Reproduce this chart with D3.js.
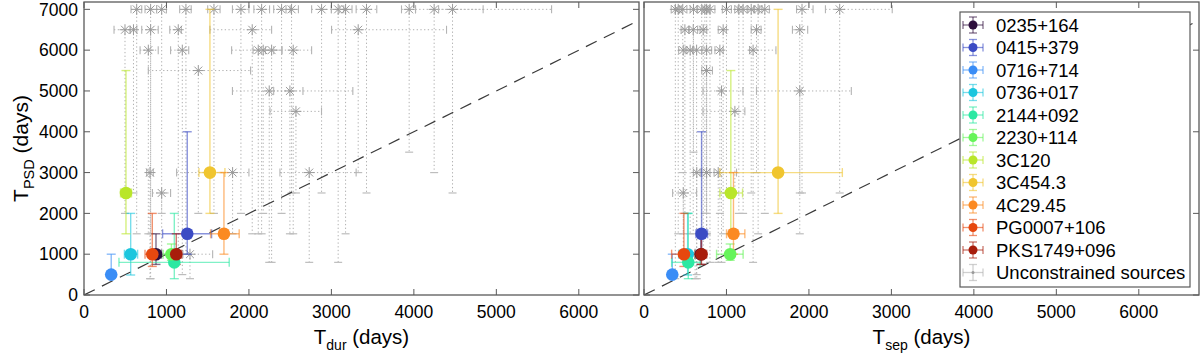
<!DOCTYPE html>
<html><head><meta charset="utf-8">
<script src="https://cdn.jsdelivr.net/npm/d3@7"></script>
<style>body{margin:0;background:#fff} text{font-family:"Liberation Sans",Arial,Helvetica,sans-serif;fill:#000}</style>
</head><body><svg id="c" width="1200" height="361"></svg>
<script>
// ---- colored (constrained) sources ----
const names = ["0235+164","0415+379","0716+714","0736+017","2144+092","2230+114","3C120","3C454.3","4C29.45","PG0007+106","PKS1749+096"];
const colors = ["#2e0f3d","#3b4bc4","#3a8df6","#1cc6de","#2be8a2","#66f45a","#b9e62a","#f0c52f","#fb8a22","#e6480f","#a81d0b"];
const psdY   = [1000,1500, 500,1000, 800,1000,2500,3000,1500,1000,1000];
const psdYlo = [ 750,1000, 500, 490, 400, 850,1500,2000,1000, 700, 750];
const psdYhi = [1500,4000,1000,2000,2000,1250,5500,7000,3000,2000,1500];
const durX   = [ 873,1252, 330, 566,1095,1060, 509,1527,1697, 828,1119];
const durXlo = [ 810, 953, 330, 490, 424, 960, 443,1394,1535, 740,1063];
const durXhi = [ 940,1547, 330, 650,1761,1150, 576,1709,1882, 900,1184];
const sepX   = [ 690, 698, 343, 529, 537,1045,1053,1626,1085, 484, 697];
const sepXlo = [ 650, 630, 343, 420, 335, 880, 920, 920,1001, 335, 650];
const sepXhi = [ 730, 771, 343, 620, 680,1202,1195,2405,1223, 617, 760];

// ---- unconstrained sources (gray) ----
const uPsd   = [7000,7000,7000,7000,7000,7000,7000,7000,7000,7000,7000,7000,7000,7000,7000,7000, 6500,6500,6500,6500,6500,6500, 6000,6000,6000,6000,6000,6000, 5500, 5000,5000, 4500, 3000,3000,3000, 2500, 1000];
const uPsdLo = [1500, 400,2000,1000,2000,2000,1500,2000,2500,2500, 800,1500,2500,3500,3000,2500, 2000,1500,1000,1500,3000,2500, 1500, 500,1500,2000, 800,1500, 2000,  800,1500, 2500,  400,1500, 800, 1000,  400];
const uDur   = [ 639, 808, 942,1236,1576,1903,2154,2396,2517,2881,3082,3172,3426,3943,4246,4469,  497, 808,1143,2040,3325, 600,  780,1192,2113,2173,2275,2537, 1386, 2246,2497, 2570,  800,1802,2731,  942, 1285];
const uDurLo = [ 570, 740, 880,1160,1500,1800,2060,2300,2450,2760,3000,3100,3300,3850,4020,4300,  364, 700,1040,1527,3002, 560,  680,1050,1790,2050,2150,2300,  780, 1800,2300, 2255,  760,1123,2376,  830, 1200];
const uDurHi = [ 700, 880,1000,1300,1650,2000,2250,2500,2600,3000,3150,3250,3550,4020,4840,5670,  560, 900,1180,2275,4396, 640,  900,1270,2200,2400,2400,2760, 2020, 2655,3260, 2880,  840,2000,3300, 1050, 1560];
const uSep   = [ 415, 380, 738, 700,1202,1150,1384,1465,1300,1916, 800, 760,2373, 600, 470,1000,  496, 597, 718, 960,1364,1889,  476, 638, 759, 920,1323, 560,  759,  940,1889, 1102,  640, 759, 900,  476,  620];
const uSepLo = [ 380, 330, 700, 650,1140,1100,1330,1400,1250,1850, 760, 700,2200, 560, 430, 950,  450, 550, 680, 900,1300,1800,  420, 590, 700, 860,1280, 500,  700,  715,1364,  715,  600, 700, 850,  347,  560];
const uSepHi = [ 450, 420, 790, 760,1260,1200,1430,1520,1340,2050, 860, 800,3010, 640, 520,1060,  540, 650, 760,1000,1420,1985,  520, 700, 820, 960,1600, 600,  830, 1200,2514, 1223,  680, 800,1122,  638,  680];

const xTicks  = [0,1000,2000,3000,4000,5000,6000];
const yTicksL = [0,1000,2000,3000,4000,5000,6000,7000];
const yTicksR = [0,2000,4000,6000];
const xMax = 6730, yMax = 7180;

const svg = d3.select("#c");
svg.append("rect").attr("width",1200).attr("height",361).attr("fill","#fff");
const y = d3.scaleLinear().domain([0,yMax]).range([295,2]);

function panel(x0, x1, xs, xlo, xhi, us, ulo, uhi, yTicks, showYLabels, xTitleSub, id){
  const x = d3.scaleLinear().domain([0,xMax]).range([x0,x1]);
  const g = svg.append("g");
  g.append("clipPath").attr("id",id).append("rect")
    .attr("x",x0).attr("y",2).attr("width",x1-x0).attr("height",293);
  const pg = g.append("g").attr("clip-path",`url(#${id})`);

  // gray unconstrained
  const gc = "#b0b0b0";
  const gg = pg.append("g");
  uPsd.forEach((v,i)=>{
    const cx = x(us[i]), cy = y(v);
    gg.append("line").attr("x1",cx).attr("x2",cx).attr("y1",cy).attr("y2",y(uPsdLo[i]))
      .attr("stroke",gc).attr("stroke-width",1).attr("stroke-dasharray","1.3,2.4");
    gg.append("line").attr("x1",cx-4).attr("x2",cx+4).attr("y1",y(uPsdLo[i])).attr("y2",y(uPsdLo[i]))
      .attr("stroke","#bdbdbd").attr("stroke-width",1.2);
    gg.append("line").attr("x1",x(ulo[i])).attr("x2",x(uhi[i])).attr("y1",cy).attr("y2",cy)
      .attr("stroke",gc).attr("stroke-width",1).attr("stroke-dasharray","1.3,2.4");
    [ulo[i],uhi[i]].forEach(b=>{
      gg.append("line").attr("x1",x(b)).attr("x2",x(b)).attr("y1",cy-4).attr("y2",cy+4)
        .attr("stroke","#b4b4b4").attr("stroke-width",1.1);
    });
    const r=5.5, d=r*0.72;
    gg.append("path").attr("d",`M${cx-r},${cy}H${cx+r}M${cx},${cy-r}V${cy+r}M${cx-d},${cy-d}L${cx+d},${cy+d}M${cx-d},${cy+d}L${cx+d},${cy-d}`)
      .attr("stroke","#9a9a9a").attr("stroke-width",1).attr("fill","none");
  });

  // dashed identity line
  pg.append("line").attr("x1",x(0)).attr("y1",y(0)).attr("x2",x(xMax)).attr("y2",y(xMax))
    .attr("stroke","#3a3a3a").attr("stroke-width",1.2).attr("stroke-dasharray","12,8");

  // colored sources
  const cg = pg.append("g");
  names.forEach((n,i)=>{
    const c = colors[i], cx = x(xs[i]), cy = y(psdY[i]);
    const eb = cg.append("g").attr("stroke",c).attr("stroke-opacity",0.6).attr("stroke-width",1.4);
    eb.append("line").attr("x1",cx).attr("x2",cx).attr("y1",y(psdYlo[i])).attr("y2",y(psdYhi[i]));
    [psdYlo[i],psdYhi[i]].forEach(b=>{ if(b!==psdY[i]) eb.append("line").attr("x1",cx-4.5).attr("x2",cx+4.5).attr("y1",y(b)).attr("y2",y(b)); });
    if (xlo[i]!==xhi[i]){
      eb.append("line").attr("x1",x(xlo[i])).attr("x2",x(xhi[i])).attr("y1",cy).attr("y2",cy);
      [xlo[i],xhi[i]].forEach(b=>eb.append("line").attr("x1",x(b)).attr("x2",x(b)).attr("y1",cy-4.5).attr("y2",cy+4.5));
    }
  });
  names.forEach((n,i)=>{
    cg.append("circle").attr("cx",x(xs[i])).attr("cy",y(psdY[i])).attr("r",6.3).attr("fill",colors[i]);
  });

  // frame & ticks
  const fc = "#5a5a5a";
  g.append("rect").attr("x",x0).attr("y",2).attr("width",x1-x0).attr("height",293)
    .attr("fill","none").attr("stroke",fc).attr("stroke-width",1.3);
  xTicks.forEach(t=>{
    g.append("line").attr("x1",x(t)).attr("x2",x(t)).attr("y1",295).attr("y2",289).attr("stroke",fc);
    g.append("line").attr("x1",x(t)).attr("x2",x(t)).attr("y1",2).attr("y2",8).attr("stroke",fc);
    g.append("text").attr("x",x(t)).attr("y",318).attr("text-anchor","middle").attr("font-size",17.5).text(t);
  });
  yTicks.forEach(t=>{
    g.append("line").attr("x1",x0).attr("x2",x0+6).attr("y1",y(t)).attr("y2",y(t)).attr("stroke",fc);
    g.append("line").attr("x1",x1).attr("x2",x1-6).attr("y1",y(t)).attr("y2",y(t)).attr("stroke",fc);
    if(showYLabels) g.append("text").attr("x",x0-6).attr("y",y(t)).attr("dy","0.36em").attr("text-anchor","end").attr("font-size",17.5).text(t);
  });
  const xt = g.append("text").attr("x",(x0+x1)/2).attr("y",344).attr("text-anchor","middle").attr("font-size",20.5);
  xt.append("tspan").text("T");
  xt.append("tspan").attr("font-size",14).attr("dy",6).text(xTitleSub);
  xt.append("tspan").attr("dy",-6).text(" (days)");
  return x;
}

panel(84, 639, durX, durXlo, durXhi, uDur, uDurLo, uDurHi, yTicksL, true, "dur", "clipL");
panel(644, 1199, sepX, sepXlo, sepXhi, uSep, uSepLo, uSepHi, yTicksR, false, "sep", "clipR");

// y title
const yt = svg.append("text").attr("transform","translate(28,148.5) rotate(-90)").attr("text-anchor","middle").attr("font-size",21);
yt.append("tspan").text("T");
yt.append("tspan").attr("font-size",14.5).attr("dy",6).text("PSD");
yt.append("tspan").attr("dy",-6).text(" (days)");

// legend
const lg = svg.append("g");
lg.append("rect").attr("x",960).attr("y",12).attr("width",230).attr("height",275)
  .attr("fill","#fff").attr("stroke","#5a5a5a").attr("stroke-width",1.2);
const legNames = names.concat(["Unconstrained sources"]);
const legColors = colors.concat(["#b0b0b0"]);
legNames.forEach((n,i)=>{
  const cy = 25 + i*22.5, cx = 973, c = legColors[i];
  const e = lg.append("g").attr("stroke",c).attr("stroke-opacity",0.6).attr("stroke-width",1.3);
  e.append("line").attr("x1",cx-10).attr("x2",cx+10).attr("y1",cy).attr("y2",cy);
  e.append("line").attr("x1",cx).attr("x2",cx).attr("y1",cy-8).attr("y2",cy+8);
  [[cx-10,cy-4,cx-10,cy+4],[cx+10,cy-4,cx+10,cy+4],[cx-4,cy-8,cx+4,cy-8],[cx-4,cy+8,cx+4,cy+8]]
    .forEach(a=>e.append("line").attr("x1",a[0]).attr("y1",a[1]).attr("x2",a[2]).attr("y2",a[3]));
  if(i<names.length) lg.append("circle").attr("cx",cx).attr("cy",cy).attr("r",4.5).attr("fill",c);
  else lg.append("circle").attr("cx",cx).attr("cy",cy).attr("r",1.5).attr("fill","#999");
  lg.append("text").attr("x",996).attr("y",cy).attr("dy","0.36em").attr("font-size",18.5).text(n);
});
</script></body></html>
